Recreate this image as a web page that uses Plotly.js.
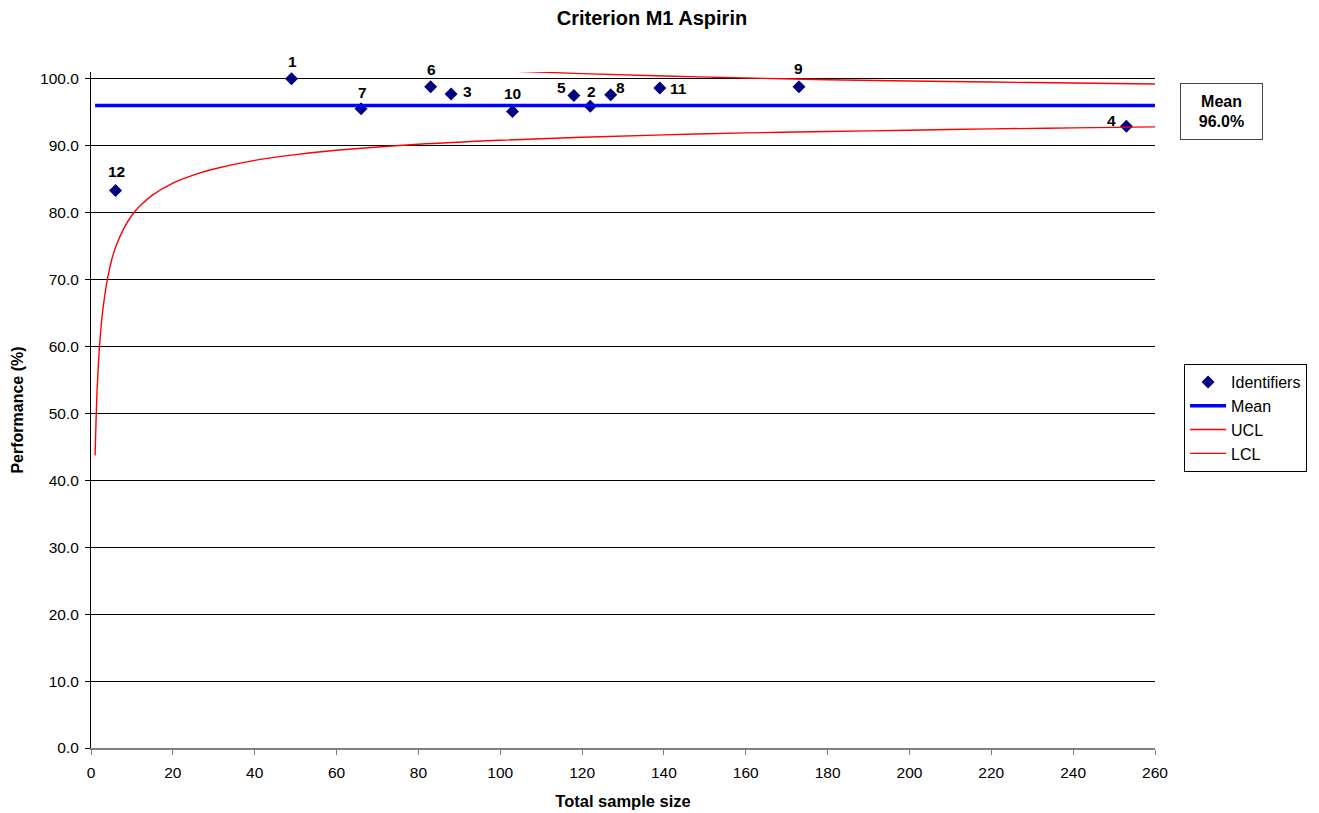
<!DOCTYPE html>
<html>
<head>
<meta charset="utf-8">
<script src="https://cdn.plot.ly/plotly-3.0.1.min.js"></script>
<style>
html,body{margin:0;padding:0;background:#fff;}
#chart{width:1319px;height:813px;}
</style>
</head>
<body>
<div id="chart"></div>
<script>
// Identifiers (providers)
const ids = ["1","2","3","4","5","6","7","8","9","10","11","12"];
const sampleSize = [49,122,88,253,118,83,66,127,173,103,139,6];
const performance = [100.0,95.9,97.7,92.9,97.5,98.8,95.5,97.6,98.8,95.1,98.6,83.3];

// Mean
const meanValue = 96.0;
const meanX = [1, 260];

// Control limits
const lclN = [1,1.5,2,2.5,3,4,5,6,8,10,12,15,20,25,30,40,50,60,80,100,120,140,160,180,200,220,240,260];
const lclY = [43.7,53.6,59.3,63.2,66.0,70.0,72.8,74.8,77.6,79.6,81.0,82.6,84.4,85.6,86.5,87.8,88.65,89.3,90.2,90.8,91.25,91.6,91.9,92.1,92.3,92.5,92.65,92.8];
const uclN = [80,100,120,140,160,180,200,220,240,260];
const uclY = [101.8,101.2,100.75,100.4,100.1,99.85,99.65,99.5,99.35,99.2];

// label pixel offsets (style): [dx, dy-up]
const labelShift = [[1,17],[1,15],[16,3],[-15,6],[-12,8],[1,17],[1,16],[10,7],[0,18],[0,18],[19,0],[1,19]];

const FONT = "Liberation Sans, Arial, Helvetica, sans-serif";

const traces = [
  {
    type: "scatter", mode: "markers", name: "Identifiers",
    x: sampleSize, y: performance,
    marker: {symbol: "diamond", size: 10, color: "#000080"},
    cliponaxis: false
  },
  {
    type: "scatter", mode: "lines", name: "Mean",
    x: meanX, y: meanX.map(() => meanValue),
    line: {color: "#0000FF", width: 3.5}
  },
  {
    type: "scatter", mode: "lines", name: "UCL",
    x: uclN, y: uclY, line: {color: "#FF0000", width: 1.4, shape: "spline"}
  },
  {
    type: "scatter", mode: "lines", name: "LCL",
    x: lclN, y: lclY, line: {color: "#FF0000", width: 1.4, shape: "spline"}
  }
];

const pointLabels = ids.map((t, i) => ({
  xref: "x", yref: "y", x: sampleSize[i], y: performance[i],
  text: "<b>" + t + "</b>", showarrow: false,
  xanchor: "center", yanchor: "middle",
  xshift: labelShift[i][0], yshift: labelShift[i][1],
  font: {family: FONT, size: 15.5, color: "#000"}
}));

const layout = {
  width: 1319, height: 813,
  margin: {l: 91, r: 164, t: 72, b: 65},
  paper_bgcolor: "#fff", plot_bgcolor: "#fff",
  font: {family: FONT, size: 15.5, color: "#000"},
  title: {text: "<b>Criterion M1 Aspirin</b>", x: 0.4943, xref: "container", xanchor: "center",
          y: 0.978, yref: "container", yanchor: "middle",
          font: {family: FONT, size: 20, color: "#000"}},
  xaxis: {
    range: [0, 260], tickmode: "linear", tick0: 0, dtick: 20,
    showgrid: false, zeroline: false,
    showline: true, linecolor: "#808080", linewidth: 2,
    ticks: "outside", ticklen: 5, tickcolor: "#808080",
    ticklabelstandoff: 4,
    tickfont: {family: FONT, size: 15.5},
    title: {text: "<b>Total sample size</b>", font: {family: FONT, size: 16.5}, standoff: 16}
  },
  yaxis: {
    range: [0, 101], tickmode: "linear", tick0: 0, dtick: 10, tickformat: ".1f",
    showgrid: true, gridcolor: "#000", gridwidth: 1, zeroline: false,
    showline: true, linecolor: "#000", linewidth: 1,
    ticks: "outside", ticklen: 5, tickcolor: "#000",
    ticklabelstandoff: 3,
    tickfont: {family: FONT, size: 15.5},
    title: {text: "<b>Performance (%)</b>", font: {family: FONT, size: 16}, standoff: 12}
  },
  showlegend: true,
  legend: {
    x: 1.0273, xanchor: "left", y: 0.568, yanchor: "top",
    bordercolor: "#000", borderwidth: 1, bgcolor: "#fff",
    font: {family: FONT, size: 16, color: "#000"},
    itemwidth: 36, tracegroupgap: 0
  },
  annotations: pointLabels.concat([{
    xref: "paper", yref: "paper", x: 1.0625, y: 0.9416,
    xanchor: "center", yanchor: "middle",
    text: "<b>Mean</b><br><b>" + meanValue.toFixed(1) + "%</b>",
    showarrow: false, align: "center",
    font: {family: FONT, size: 16, color: "#000"},
    bordercolor: "#444", borderwidth: 1, borderpad: 3,
    width: 75, height: 49, bgcolor: "#fff"
  }])
};

Plotly.newPlot("chart", traces, layout, {displayModeBar: false, staticPlot: true});
</script>
</body>
</html>
